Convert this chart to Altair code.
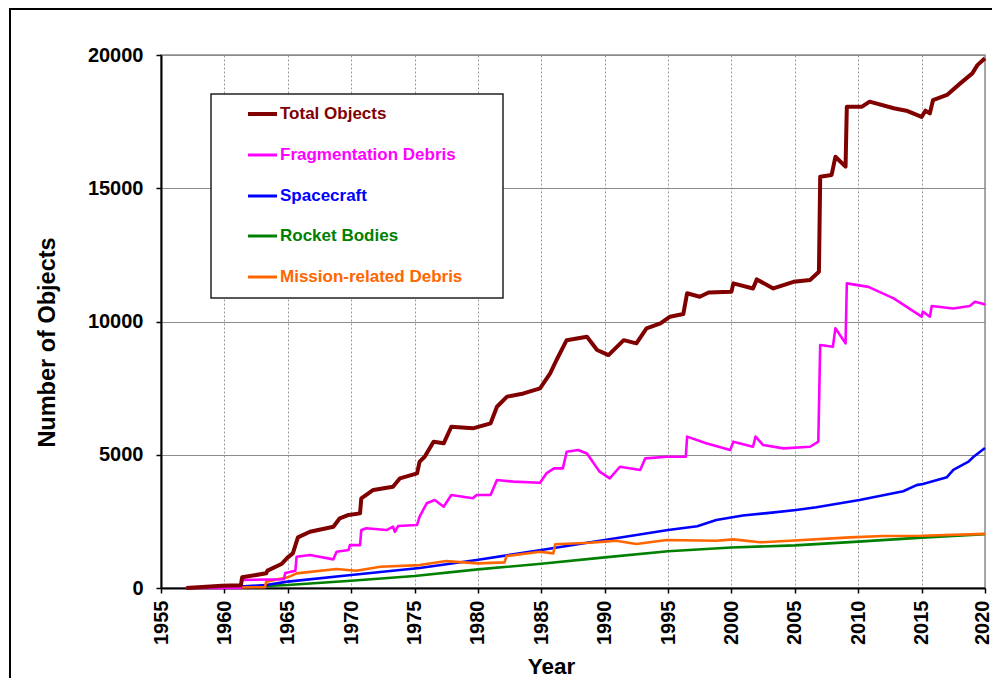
import altair as alt
import pandas as pd

FONT = "Liberation Sans"

series_names = ["Total Objects", "Fragmentation Debris", "Spacecraft",
                "Rocket Bodies", "Mission-related Debris"]
series_colors = ["#800000", "#FF00FF", "#0000FF", "#008000", "#FF6600"]

total_years = [1957.0, 1959.8, 1961.3, 1961.4, 1963.3, 1963.4, 1964.5, 1965.0, 1965.4, 1965.8,
               1966.75, 1968.6, 1969.1, 1969.8, 1970.7, 1970.8, 1971.75, 1973.3, 1973.85, 1975.2,
               1975.4, 1975.8, 1976.5, 1977.3, 1977.9, 1979.6, 1981.0, 1981.5, 1982.3, 1983.6,
               1984.9, 1985.7, 1986.2, 1987.0, 1988.6, 1989.4, 1990.3, 1991.5, 1992.5, 1993.3,
               1994.4, 1995.15, 1996.2, 1996.5, 1997.5, 1998.2, 2000.0, 2000.15, 2001.7, 2002.0,
               2003.3, 2004.9, 2006.2, 2006.9, 2007.0, 2007.9, 2008.2, 2009.0, 2009.1, 2010.3,
               2010.9, 2012.8, 2013.8, 2015.0, 2015.3, 2015.65, 2015.9, 2017.0, 2018.05, 2019.0,
               2019.4, 2020.0]
total_values = [0, 80, 100, 400, 550, 650, 900, 1150, 1300, 1900,
                2110, 2300, 2615, 2740, 2800, 3365, 3680, 3800, 4115, 4300,
                4740, 4925, 5490, 5430, 6050, 5990, 6180, 6800, 7180, 7300,
                7490, 8050, 8555, 9300, 9430, 8930, 8740, 9300, 9180, 9745,
                9930, 10180, 10280, 11060, 10930, 11090, 11120, 11430, 11240, 11580,
                11240, 11490, 11560, 11870, 15430, 15500, 16180, 15810, 18060, 18060,
                18250, 18000, 17910, 17680, 17910, 17810, 18310, 18500, 18935, 19310,
                19620, 19875]

frag_years = [1957.0, 1961.3, 1961.4, 1964.7, 1964.8, 1965.6, 1965.7, 1966.75, 1968.6, 1968.85,
              1969.8, 1969.9, 1970.7, 1970.8, 1971.2, 1972.8, 1973.3, 1973.45, 1973.7, 1975.2,
              1975.4, 1975.96, 1976.6, 1977.3, 1977.9, 1979.6, 1979.9, 1981.0, 1981.5, 1982.8,
              1984.9, 1985.4, 1986.0, 1986.7, 1987.0, 1987.9, 1988.6, 1989.6, 1990.4, 1991.2,
              1992.8, 1993.2, 1994.9, 1996.4, 1996.5, 1998.0, 1999.9, 2000.15, 2001.7, 2001.9,
              2002.5, 2004.1, 2006.2, 2006.85, 2007.0, 2008.0, 2008.2, 2009.0, 2009.1, 2010.8,
              2012.8, 2015.0, 2015.1, 2015.65, 2015.8, 2017.5, 2018.8, 2019.2, 2019.9, 2020.0]
frag_values = [0, 0, 300, 330, 560, 650, 1175, 1240, 1075, 1360,
               1425, 1610, 1610, 2175, 2240, 2175, 2300, 2110, 2325, 2365,
               2675, 3180, 3300, 3050, 3490, 3365, 3490, 3490, 4050, 3990,
               3950, 4300, 4490, 4490, 5115, 5180, 5050, 4365, 4115, 4550,
               4430, 4865, 4925, 4925, 5680, 5430, 5180, 5490, 5300, 5680,
               5365, 5240, 5300, 5490, 9120, 9050, 9745, 9180, 11430, 11300,
               10870, 10180, 10370, 10180, 10580, 10490, 10580, 10740, 10655, 10620]

sc_years = [1957.0, 1960.0, 1963.3, 1965.0, 1970.0, 1973.85, 1975.4, 1979.9, 1985.0, 1990.0,
            1995.0, 1997.3, 1998.8, 2000.9, 2003.0, 2005.1, 2006.7, 2010.1, 2013.55, 2014.6,
            2015.1, 2017.0, 2017.5, 2018.7, 2019.1, 2020.0]
sc_values = [0, 20, 110, 240, 490, 675, 750, 1050, 1425, 1800,
             2175, 2320, 2550, 2720, 2820, 2925, 3030, 3300, 3630, 3860,
             3900, 4160, 4430, 4740, 4925, 5250]

rb_years = [1957.0, 1960.0, 1965.0, 1970.0, 1975.0, 1980.0, 1985.0, 1990.0, 1995.0, 2000.0,
            2005.0, 2010.0, 2015.0, 2020.0]
rb_values = [0, 20, 110, 270, 450, 700, 910, 1150, 1380, 1520,
             1600, 1740, 1890, 2020]

md_years = [1957.0, 1963.2, 1963.3, 1965.0, 1965.7, 1968.85, 1970.4, 1972.3, 1975.4, 1977.5,
            1980.0, 1982.1, 1982.25, 1984.9, 1985.95, 1986.1, 1988.8, 1990.0, 1990.9, 1992.5,
            1994.9, 1998.8, 2000.15, 2002.25, 2004.6, 2009.35, 2012.0, 2015.0, 2020.0]
md_values = [0, 30, 240, 400, 550, 710, 650, 800, 860, 1010,
             925, 960, 1200, 1360, 1300, 1640, 1700, 1740, 1775, 1650,
             1800, 1775, 1825, 1715, 1775, 1900, 1950, 1960, 2030]

all_years = [total_years, frag_years, sc_years, rb_years, md_years]
all_values = [total_values, frag_values, sc_values, rb_values, md_values]

frames = []
for name, ys, vs in zip(series_names, all_years, all_values):
    frames.append(pd.DataFrame({"year": ys, "value": vs, "series": name}))
df = pd.concat(frames, ignore_index=True)

x_enc = alt.X("year:Q",
              scale=alt.Scale(domain=[1955, 2020], nice=False, zero=False),
              axis=alt.Axis(values=list(range(1955, 2021, 5)), format="d",
                            labelAngle=270, labelPadding=7, tickSize=5,
                            labelOffset={"condition": {"test": "datum.value >= 2020", "value": -3},
                                         "value": 0},
                            gridDash=[2, 2], gridColor="#9a9a9a", gridWidth=1,
                            title="Year", titleX=390, titleY=85,
                            titleAlign="center", titleBaseline="alphabetic",
                            titleAngle=0, titleFontSize=22.5))
y_enc = alt.Y("value:Q",
              scale=alt.Scale(domain=[0, 20000], nice=False),
              axis=alt.Axis(values=[0, 5000, 10000, 15000, 20000], format="d",
                            labelPadding=13, tickSize=5,
                            gridColor="#8c8c8c", gridWidth=1,
                            title="Number of Objects", titleX=-107, titleY=287,
                            titleAngle=270, titleAlign="center",
                            titleBaseline="alphabetic", titleFontSize=23.5))

base = alt.Chart(df).encode(x=x_enc, y=y_enc)

draw_order = ["Rocket Bodies", "Spacecraft", "Mission-related Debris",
              "Fragmentation Debris", "Total Objects"]
layers = []
for name in draw_order:
    col = series_colors[series_names.index(name)]
    sw = 4 if name == "Total Objects" else 2.6
    layers.append(
        base.transform_filter(alt.datum.series == name)
        .mark_line(color=col, strokeWidth=sw, strokeJoin="round", strokeCap="butt")
    )

# legend box
one = pd.DataFrame({"k": [0]})
layers.append(
    alt.Chart(one).mark_rect(fill="white", stroke="#222222", strokeWidth=1.5)
    .encode(x=alt.value(50), x2=alt.value(342), y=alt.value(39), y2=alt.value(243))
)
row_y = [59, 100, 141, 181, 222]
for name, col, ry in zip(series_names, series_colors, row_y):
    sw = 4 if name == "Total Objects" else 3
    layers.append(
        alt.Chart(one).mark_rule(color=col, strokeWidth=sw)
        .encode(x=alt.value(87), x2=alt.value(116), y=alt.value(ry))
    )
    layers.append(
        alt.Chart(pd.DataFrame({"label": [name]}))
        .mark_text(align="left", baseline="middle", font=FONT, fontSize=17,
                   fontWeight="bold", color=col)
        .encode(x=alt.value(119), y=alt.value(ry), text="label:N")
    )

# outer frame lines
layers.append(
    alt.Chart(one).mark_rule(color="black", strokeWidth=2)
    .encode(x=alt.value(-152), x2=alt.value(831), y=alt.value(-46))
)
layers.append(
    alt.Chart(one).mark_rule(color="black", strokeWidth=2)
    .encode(x=alt.value(-151), y=alt.value(-47), y2=alt.value(630))
)

chart = alt.layer(*layers).properties(
    width=824, height=533,
    autosize=alt.AutoSizeParams(type="none"),
    padding={"left": 153, "top": 47, "right": 7, "bottom": 90},
).configure_view(
    stroke="#8c8c8c", strokeWidth=1.5
).configure_axis(
    labelFont=FONT, labelFontSize=20, labelFontWeight="bold", labelColor="black",
    titleFont=FONT, titleFontWeight="bold", titleColor="black",
    domainColor="black", domainWidth=2, tickColor="black", tickWidth=1.5,
    labelOverlap=False
)

chart.save("out.html", embed_options={"renderer": "svg", "actions": False})
